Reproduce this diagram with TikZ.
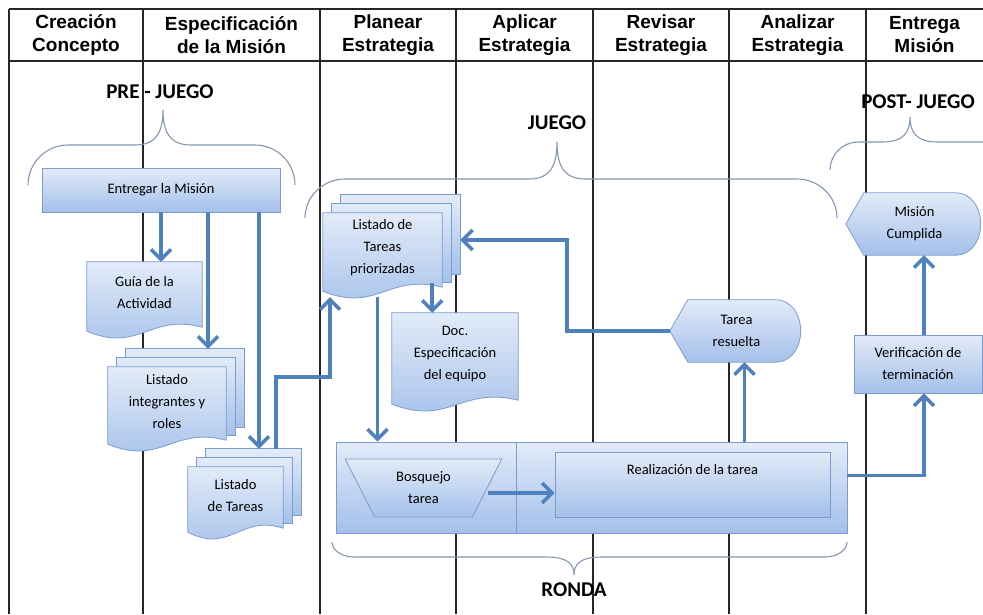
\documentclass[tikz,border=0pt]{standalone}
\usepackage{fontspec}
\setmainfont{Carlito}
\newfontfamily\headfont{Liberation Sans}
\usetikzlibrary{arrows.meta, calc, shapes.geometric}
\pgfdeclarelayer{back}
\pgfsetlayers{back,main}

\definecolor{boxtop}{HTML}{E2EBF8}
\definecolor{boxbot}{HTML}{A4C0EA}
\definecolor{boxline}{HTML}{7C9CCF}
\definecolor{flowblue}{HTML}{4F81BD}
\definecolor{bracegray}{HTML}{8497AE}

\tikzset{
    boxfill/.style={top color=boxtop, bottom color=boxbot, draw=boxline, line width=0.8pt},
    txt/.style={font=\fontsize{14.5}{22}\selectfont, align=center, inner sep=0pt},
    flow/.style={draw=flowblue, line width=3.5pt, -{Straight Barb[length=10pt,width=20pt]}},
    brace/.style={draw=bracegray, line width=1.1pt},
    lane/.style={draw=black!85, line width=1.2pt},
    phase/.style={font=\fontsize{21}{24}\selectfont\bfseries},
    colhead/.style={font=\headfont\bfseries\fontsize{19}{23}\selectfont, align=center}
}

% document shape with wavy bottom, drawn round a named node
\newcommand{\drawDoc}[1]{
    \path[boxfill] (#1.north west) -- (#1.north east) -- ([yshift=-4pt]#1.south east)
        .. controls ($(#1.south)+(5pt,10pt)$) and ($(#1.south)+(-5pt,-30pt)$) .. ([yshift=-8pt]#1.south west) -- cycle;
    \coordinate (#1-bot) at ([yshift=-14pt]#1.south);
}
% stack of three documents
\newcommand{\drawMulti}[1]{
    \path[boxfill] ([xshift=18pt,yshift=18pt]#1.north west) rectangle ([xshift=18pt,yshift=9pt]#1.south east);
    \path[boxfill] ([xshift=9pt,yshift=9pt]#1.north west) rectangle ([xshift=9pt,yshift=1pt]#1.south east);
    \drawDoc{#1}
    \coordinate (#1-ne) at ([xshift=18pt,yshift=18pt]#1.north east);
}
% display shape: pointed left, rounded right
\newcommand{\drawDisplay}[1]{
    \path[boxfill] (#1.west) -- ([xshift=18pt]#1.north west) -- ([xshift=-28pt]#1.north east)
        .. controls ([xshift=6pt]#1.north east) and ([xshift=6pt]#1.south east) .. ([xshift=-28pt]#1.south east)
        -- ([xshift=18pt]#1.south west) -- cycle;
}
% curly brace: xl, xtip, xr, yend, yline, ytip, corner
\newcommand{\drawBrace}[7]{
    \draw[brace] (#1,#4) .. controls (#1,{#5+0.45*(#4-#5)}) and ({#1+0.45*#7},#5) .. ({#1+#7},#5) -- ({#2-28},#5)
        .. controls ({#2-6},#5) and (#2,{#5+0.4*(#6-#5)}) .. (#2,#6)
        .. controls (#2,{#5+0.4*(#6-#5)}) and ({#2+6},#5) .. ({#2+28},#5)
        -- ({#3-#7},#5) .. controls ({#3-0.45*#7},#5) and (#3,{#5+0.45*(#4-#5)}) .. (#3,#4);
}

\begin{document}
\begin{tikzpicture}[x=1pt, y=-1pt]
    \useasboundingbox (0,0) rectangle (983,614);

    \begin{pgfonlayer}{back}
        \fill[white] (0,0) rectangle (983,614);
        % swim lanes
        \draw[lane] (9,9) -- (983,9);
        \draw[lane] (9,61) -- (983,61);
        \foreach \x in {9,143,320,456,593,729,866}{
            \draw[lane] (\x,9) -- (\x,614);
        }
        % braces
        \drawBrace{28}{163}{295}{185}{145}{110}{40}
        \drawBrace{305}{557}{837}{218}{179}{142}{40}
        \drawBrace{830}{910}{1080}{170}{142}{117}{28}
        \drawBrace{332}{574}{847}{542}{557}{575}{22}
    \end{pgfonlayer}

    % column headers
    \foreach \cx/\txt [count=\i] in {76/{Creación\\Concepto}, 231.5/{Especificación\\de la Misión},
            388/{Planear\\Estrategia}, 524.5/{Aplicar\\Estrategia}, 661/{Revisar\\Estrategia},
            797.5/{Analizar\\Estrategia}, 924.5/{Entrega\\Misión}}{
        \node[colhead] (head\i) at (\cx,35) {\txt};
    }

    \node[phase] (pre) at (160,92) {PRE - JUEGO};
    \node[phase] (juego) at (557,123) {JUEGO};
    \node[phase] (post) at (918,102) {POST- JUEGO};
    \node[phase] (rondalbl) at (574,590) {RONDA};

    % nodes
    \node[txt, boxfill, minimum width=238pt, minimum height=44pt] (entregar) at (161,190) {Entregar la Misión};
    \node[txt, minimum width=115pt, minimum height=61pt] (guia) at (144.5,292.5) {Guía de la\\Actividad};
    \node[txt, minimum width=118pt, minimum height=69pt] (integrantes) at (167,401.5) {Listado\\integrantes y\\roles};
    \node[txt, minimum width=95pt, minimum height=57pt] (tareas) at (235.5,495.5) {Listado\\de Tareas};
    \node[txt, minimum width=119pt, minimum height=70pt] (priorizadas) at (382.5,248) {Listado de\\Tareas\\priorizadas};
    \node[txt, minimum width=126pt, minimum height=83pt] (especif) at (455,354.5) {Doc.\\Especificación\\del equipo};

    \node[boxfill, minimum width=511pt, minimum height=91pt] (ronda) at (591.5,487.5) {};
    \draw[boxline, line width=0.8pt] ([xshift=181pt]ronda.north west) -- ([xshift=181pt]ronda.south west);
    \node[txt, boxfill, trapezium, trapezium stretches=true, trapezium left angle=63, trapezium right angle=63,
        shape border rotate=180, minimum width=157pt, minimum height=58pt] (bosquejo) at (423.5,488) {Bosquejo\\tarea};
    \node[txt, boxfill, minimum width=275pt, minimum height=65pt, text depth=30pt] (realizacion) at (692.5,484.5) {Realización de la tarea};

    \node[txt, minimum width=133pt, minimum height=62pt] (resuelta) at (736.5,331) {Tarea\\resuelta};
    \node[txt, boxfill, minimum width=128pt, minimum height=58pt] (verif) at (918,364) {Verificación de\\terminación};
    \node[txt, minimum width=137pt, minimum height=62pt] (cumplida) at (914.5,224) {Misión\\Cumplida};

    \begin{pgfonlayer}{back}
        \drawDoc{guia}
        \drawMulti{integrantes}
        \drawMulti{tareas}
        \drawMulti{priorizadas}
        \drawDoc{especif}
        \drawDisplay{resuelta}
        \drawDisplay{cumplida}
    \end{pgfonlayer}

    % connectors
    \coordinate (jog) at (330,377);
    \coordinate (loop) at (567,240);
    \draw[flow] (entregar.south) -- (entregar.south |- guia.north);
    \draw[flow] ([xshift=47pt]entregar.south) coordinate (a2) -- (a2 |- integrantes-ne);
    \draw[flow] ([xshift=98pt]entregar.south) coordinate (a3) -- (a3 |- tareas-ne);
    \draw[flow] ([xshift=-25pt]tareas-ne) |- (jog) -- (jog |- priorizadas-bot);
    \draw[flow] ([xshift=-10pt]priorizadas.south east) coordinate (a5) -- (a5 |- especif.north);
    \draw[flow] ([xshift=-5pt]priorizadas-bot) coordinate (a6) -- (a6 |- ronda.north);
    \draw[flow] ([yshift=-5pt]bosquejo.east) coordinate (a7) -- (a7 -| realizacion.west);
    \path ([xshift=8pt]resuelta.south) coordinate (a8);
    \draw[flow] (a8 |- ronda.north) -- (a8);
    \draw[flow] (resuelta.west) -| (loop) -- (loop -| priorizadas-ne);
    \draw[flow] ([yshift=12pt]ronda.east) -| ([xshift=6pt]verif.south);
    \path ([xshift=6pt]verif.north) coordinate (a11);
    \draw[flow] (a11) -- (a11 |- cumplida.south);
\end{tikzpicture}
\end{document}
